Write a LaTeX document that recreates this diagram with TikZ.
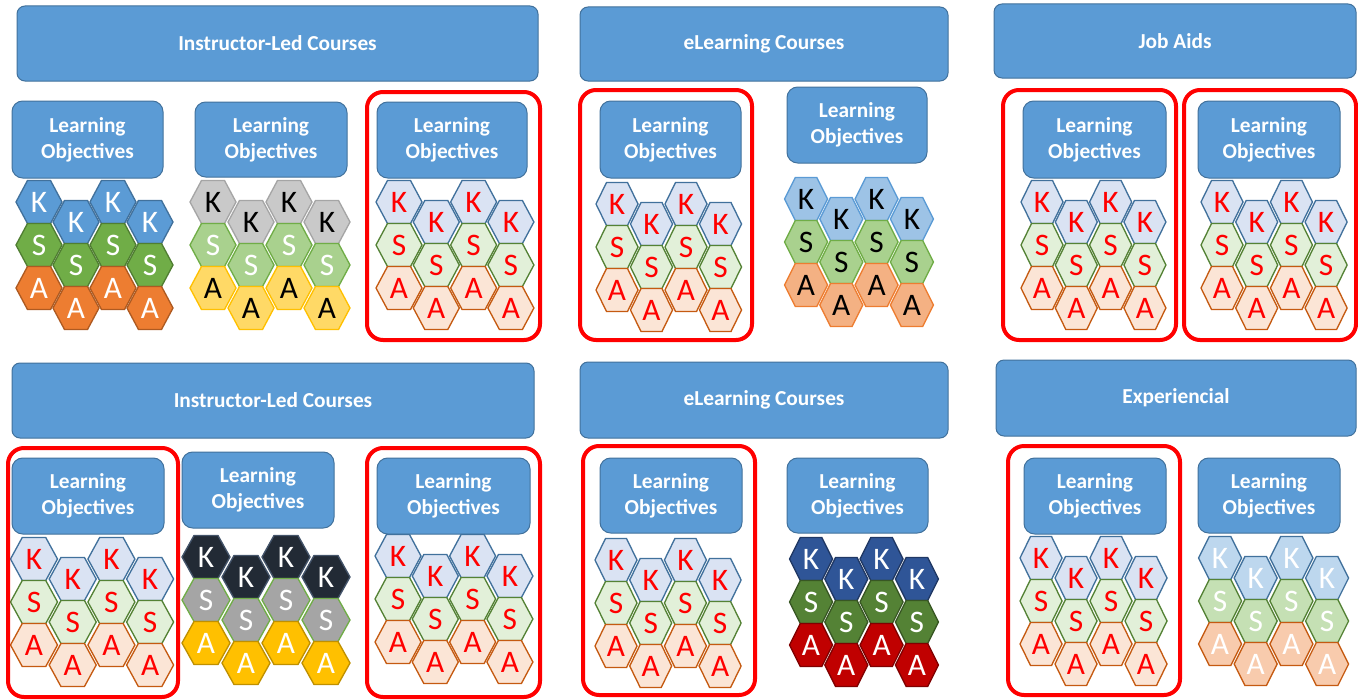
\documentclass[tikz,border=0pt]{standalone}
\usepackage{fontspec}
\setmainfont{Carlito}

\definecolor{boxblue}{HTML}{5B9BD5}
\definecolor{boxline}{HTML}{41719C}

\newcommand{\headfont}{\bfseries\fontsize{16}{19.5}\selectfont}
\newcommand{\hexfont}{\fontsize{23.5}{23.5}\selectfont}

\tikzset{every picture/.style={line width=0.75pt}}
\tikzset{
  headbox/.style={draw=boxline, fill=boxblue, rounded corners=6pt, text=white, font=\headfont, inner sep=0pt},
  lobox/.style={headbox, rounded corners=8pt, align=center},
  boxdim/.style 2 args={minimum width=#1*0.75pt, minimum height=#2*0.75pt},
  redframe/.style={draw=red, line width=3pt, rounded corners=12pt},
  letter/.style={fill=none, draw=none, inner sep=0pt, font=\hexfont},
  cell/.style={line width=1pt},
  % colourings of the K / S / A cells
  solidk/.style={cell, fill={rgb,255:red,91;green,155;blue,213}, draw={rgb,255:red,65;green,113;blue,156}, text=white},
  solids/.style={cell, fill={rgb,255:red,112;green,173;blue,71}, draw={rgb,255:red,80;green,126;blue,50}, text=white},
  solida/.style={cell, fill={rgb,255:red,237;green,125;blue,49}, draw={rgb,255:red,174;green,90;blue,33}, text=white},
  greyk/.style={cell, fill={rgb,255:red,201;green,201;blue,201}, draw={rgb,255:red,165;green,165;blue,165}, text=black},
  greys/.style={cell, fill={rgb,255:red,169;green,209;blue,142}, draw={rgb,255:red,112;green,173;blue,71}, text=white},
  greya/.style={cell, fill={rgb,255:red,255;green,217;blue,102}, draw={rgb,255:red,255;green,192;blue,0}, text=black},
  palek/.style={cell, fill={rgb,255:red,218;green,227;blue,243}, draw={rgb,255:red,65;green,113;blue,156}, text=red},
  pales/.style={cell, fill={rgb,255:red,226;green,240;blue,217}, draw={rgb,255:red,84;green,130;blue,53}, text=red},
  palea/.style={cell, fill={rgb,255:red,251;green,229;blue,214}, draw={rgb,255:red,197;green,90;blue,17}, text=red},
  midk/.style={cell, fill={rgb,255:red,157;green,195;blue,230}, draw={rgb,255:red,91;green,155;blue,213}, text=black},
  mids/.style={cell, fill={rgb,255:red,169;green,209;blue,142}, draw={rgb,255:red,112;green,173;blue,71}, text=black},
  mida/.style={cell, fill={rgb,255:red,244;green,177;blue,131}, draw={rgb,255:red,237;green,125;blue,49}, text=black},
  navyk/.style={cell, fill={rgb,255:red,34;green,42;blue,53}, draw={rgb,255:red,68;green,84;blue,106}, text=white},
  navys/.style={cell, fill={rgb,255:red,165;green,165;blue,165}, draw={rgb,255:red,112;green,173;blue,71}, text=white},
  navya/.style={cell, fill={rgb,255:red,255;green,192;blue,0}, draw={rgb,255:red,191;green,144;blue,0}, text=white},
  deepk/.style={cell, fill={rgb,255:red,47;green,85;blue,151}, draw={rgb,255:red,32;green,56;blue,100}, text=white},
  deeps/.style={cell, fill={rgb,255:red,84;green,130;blue,53}, draw={rgb,255:red,56;green,87;blue,35}, text=white},
  deepa/.style={cell, fill={rgb,255:red,192;green,0;blue,0}, draw={rgb,255:red,128;green,0;blue,0}, text=white},
  fadedk/.style={cell, fill={rgb,255:red,189;green,215;blue,238}, draw={rgb,255:red,65;green,113;blue,156}, text=white},
  fadeds/.style={cell, fill={rgb,255:red,197;green,224;blue,180}, draw={rgb,255:red,84;green,130;blue,53}, text=white},
  fadeda/.style={cell, fill={rgb,255:red,248;green,203;blue,173}, draw={rgb,255:red,197;green,90;blue,17}, text=white}
}

% one cell: name, x, y, half width, colouring, letter
\newcommand{\hexcell}[6]{%
  \path[#5] (#2-#4,#3) -- (#2-#4/2,#3-21.5) -- (#2+#4/2,#3-21.5) -- (#2+#4,#3)
    -- (#2+#4/2,#3+21.5) -- (#2-#4/2,#3+21.5) -- cycle;
  \node[#5, letter] (#1) at (#2,#3) {#6};
}
% a block of 4 x 3 cells: name, x and y of first K, column step, half width, colouring
\newcommand{\hexgroup}[6]{%
  \foreach \c in {0,...,3}{
    \pgfmathsetmacro{\hx}{#2+\c*#4}
    \pgfmathsetmacro{\hy}{#3+mod(\c,2)*20}
    \hexcell{#1k\c}{\hx}{\hy}{#5}{#6k}{K}
  }
  \foreach \c in {0,...,3}{
    \pgfmathsetmacro{\hx}{#2+\c*#4}
    \pgfmathsetmacro{\hy}{#3+43+mod(\c,2)*20}
    \hexcell{#1s\c}{\hx}{\hy}{#5}{#6s}{S}
  }
  \foreach \c in {0,...,3}{
    \pgfmathsetmacro{\hx}{#2+\c*#4}
    \pgfmathsetmacro{\hy}{#3+86+mod(\c,2)*20}
    \hexcell{#1a\c}{\hx}{\hy}{#5}{#6a}{A}
  }
}

\begin{document}
\begin{tikzpicture}[x=0.75pt,y=0.75pt,yscale=-1,xscale=1]
	\useasboundingbox (0,0) rectangle (1358,699);

	% course headers
	\node[headbox, boxdim={521}{75}] (ilc1) at (277.5,43.5) {Instructor-Led Courses};
	\node[headbox, boxdim={368}{74}] (elc1) at (764,44) {eLearning Courses};
	\node[headbox, boxdim={362}{74}] (jobaids) at (1175,41) {Job Aids};
	\node[headbox, boxdim={522}{75}] (ilc2) at (273,400.5) {Instructor-Led Courses};
	\node[headbox, boxdim={368}{76}] (elc2) at (764,400) {eLearning Courses};
	\node[headbox, boxdim={360}{76}] (exper) at (1176,398) {Experiencial};

	% learning objectives, top row
	\node[lobox, boxdim={151}{77}] (lo1) at (87.5,139.5) {Learning\\Objectives};
	\node[lobox, boxdim={152}{75}] (lo2) at (271,139.5) {Learning\\Objectives};
	\node[lobox, boxdim={150}{76}] (lo3) at (452,140) {Learning\\Objectives};
	\node[lobox, boxdim={141}{77}] (lo4) at (670.5,139.5) {Learning\\Objectives};
	\node[lobox, boxdim={140}{76}] (lo5) at (857,125) {Learning\\Objectives};
	\node[lobox, boxdim={143}{77}] (lo6) at (1094.5,139.5) {Learning\\Objectives};
	\node[lobox, boxdim={142}{77}] (lo7) at (1269,139.5) {Learning\\Objectives};
	% learning objectives, bottom row
	\node[lobox, boxdim={152}{76}] (lo8) at (88,496) {Learning\\Objectives};
	\node[lobox, boxdim={152}{76}] (lo9) at (258,490) {Learning\\Objectives};
	\node[lobox, boxdim={153}{76}] (lo10) at (453.5,496) {Learning\\Objectives};
	\node[lobox, boxdim={142}{75}] (lo11) at (671,495.5) {Learning\\Objectives};
	\node[lobox, boxdim={141}{75}] (lo12) at (857.5,495.5) {Learning\\Objectives};
	\node[lobox, boxdim={142}{76}] (lo13) at (1095,496) {Learning\\Objectives};
	\node[lobox, boxdim={142}{75}] (lo14) at (1269,495.5) {Learning\\Objectives};

	% K S A cells
	\hexgroup{t1}{39}{202}{37}{23}{solid}
	\hexgroup{t2}{213}{202}{38}{23}{grey}
	\hexgroup{t3}{399}{202}{37.3}{23}{pale}
	\hexgroup{t4}{617}{204}{34.5}{21}{pale}
	\hexgroup{t5}{806}{199}{35.3}{21.5}{mid}
	\hexgroup{t6}{1042}{202}{34.3}{21}{pale}
	\hexgroup{t7}{1222}{202}{34.7}{21}{pale}
	\hexgroup{b1}{34}{559}{38.7}{23.5}{pale}
	\hexgroup{b2}{206}{557}{40}{24}{navy}
	\hexgroup{b3}{398}{556}{37.3}{23}{pale}
	\hexgroup{b4}{616}{560}{34.7}{21}{pale}
	\hexgroup{b5}{811}{559}{35.3}{21.5}{deep}
	\hexgroup{b6}{1041}{558}{35}{21}{pale}
	\hexgroup{b7}{1220}{558}{35.7}{21.5}{faded}

	% red frames
	\draw[redframe] (367,92) rectangle (540,340);
	\draw[redframe] (580,90) rectangle (752,340);
	\draw[redframe] (1003,90) rectangle (1176,340);
	\draw[redframe] (1184,90) rectangle (1356,340);
	\draw[redframe] (8,448) rectangle (178,697);
	\draw[redframe] (367,448) rectangle (540,697);
	\draw[redframe] (583,446) rectangle (755,695);
	\draw[redframe] (1008,446) rectangle (1180,695);

\end{tikzpicture}
\end{document}
